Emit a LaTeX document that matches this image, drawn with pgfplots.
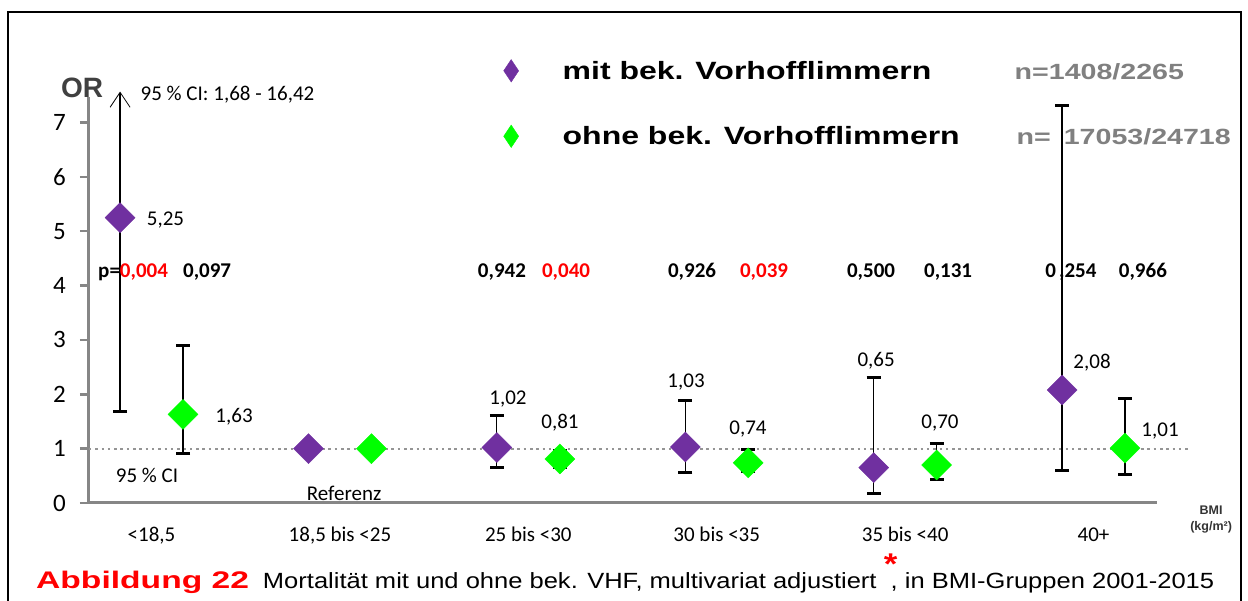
\documentclass[border=0pt]{standalone}
\usepackage{pgfplots}
\pgfplotsset{compat=1.18}
\usepackage{graphicx}
\usepackage{fontspec}
\setmainfont{Carlito}
\newfontfamily\arial{Liberation Sans}
\usetikzlibrary{arrows.meta}
\definecolor{vpurple}{HTML}{7030A0}
\definecolor{vgreen}{HTML}{00FF00}
\definecolor{axgray}{HTML}{868686}
\definecolor{ngray}{HTML}{808080}
\definecolor{dotgray}{HTML}{959595}
\definecolor{orgray}{HTML}{404040}
\newcommand{\px}[1]{\fontsize{#1}{#1}\selectfont}

\begin{document}
\begin{tikzpicture}
% 1px = 1pt; origin = axis corner (px 89, 503)
\path[use as bounding box] (-89pt,-98pt) rectangle (1159pt,503pt);
\begin{axis}[
  at={(0pt,0pt)}, anchor=south west,
  scale only axis, width=1068pt, height=406pt,
  xmin=-0.332, xmax=5.337, ymin=0, ymax=7.47,
  axis lines*=left,
  axis line style={axgray, line width=3pt},
  clip=false,
  xtick={0,...,5},
  xticklabels={{<18,5},{18,5 bis <25},{25 bis <30},{30 bis <35},{35 bis <40},{40+}},
  xtick style={draw=none},
  ytick={0,...,7},
  tick style={axgray, line width=2.5pt},
  tick align=outside, major tick length=9pt,
  /pgf/number format/assume math mode=true,
  xticklabel style={font=\px{21}, anchor=base, yshift=-30pt},
  yticklabel style={font=\px{25}, anchor=east, inner sep=0pt, xshift=-14pt},
  legend style={draw=none, fill=none, inner sep=0pt,
    at={(axis cs:1.868,8.163)}, anchor=north west,
    font=\arial\bfseries\px{25}, row sep=43pt,
    nodes={inner sep=0pt},
    /tikz/every odd column/.append style={column sep=44pt}},
  legend cell align=left,
  legend image code/.code={\draw[#1, mark size=5.3pt, mark options={yscale=1.5,rotate=45}] plot coordinates {(0pt,0pt)};},
]
% reference line
\addplot[dotgray, line width=2pt, dash pattern=on 2.5pt off 3.8pt, forget plot]
  coordinates {(-0.332,1) (5.5,1)};
% error bars, purple
\addplot[draw=none, mark=none, forget plot,
  error bars/.cd, y dir=both, y explicit,
  error bar style={black, line width=1.2pt},
  error mark options={rotate=90, black, line width=3pt, mark size=7pt}]
  coordinates {
  (1.833,1.02) += (0,0.595) -= (0,0.375)
  (2.833,1.03) += (0,0.86) -= (0,0.465)
  (3.833,0.65) += (0,1.65) -= (0,0.47)
  (4.833,2.08) += (0,5.23) -= (0,1.49)
};
\addplot[draw=none, mark=none, forget plot,
  error bars/.cd, y dir=minus, y explicit,
  error bar style={black, line width=1.2pt},
  error mark options={rotate=90, black, line width=3pt, mark size=7pt}]
  coordinates {(-0.167,5.25) -= (0,3.57)};
\addplot[black, line width=1.2pt, forget plot, -{Straight Barb[length=15pt,width=20pt,line width=0.8pt]}]
  coordinates {(-0.167,1.68) (-0.167,7.57)};
% error bars, green
\addplot[draw=none, mark=none, forget plot,
  error bars/.cd, y dir=both, y explicit,
  error bar style={black, line width=1.2pt},
  error mark options={rotate=90, black, line width=3pt, mark size=7pt}]
  coordinates {
  (0.167,1.63) += (0,1.26) -= (0,0.715)
  (2.167,0.81) += (0,0.16) -= (0,0.15)
  (3.167,0.74) += (0,0.25) -= (0,0.16)
  (4.167,0.70) += (0,0.40) -= (0,0.26)
  (5.167,1.01) += (0,0.92) -= (0,0.48)
};
% markers
\addplot[only marks, mark=square*, mark size=10.6pt, color=vpurple, mark options={rotate=45}]
  coordinates {(-0.167,5.25) (0.833,1.00) (1.833,1.02) (2.833,1.03) (3.833,0.65) (4.833,2.08)};
\addlegendentry{\makebox[452pt][l]{\scalebox{1.28}[1]{mit bek. Vorhofflimmern}}\textcolor{ngray}{\px{22}\scalebox{1.3}[1]{n=1408/2265}}}
\addplot[only marks, mark=square*, mark size=10.6pt, color=vgreen, mark options={rotate=45}]
  coordinates {(0.167,1.63) (1.167,1.00) (2.167,0.81) (3.167,0.74) (4.167,0.70) (5.167,1.01)};
\addlegendentry{\makebox[454pt][l]{\scalebox{1.28}[1]{ohne bek. Vorhofflimmern}}\textcolor{ngray}{\px{22}\scalebox{1.3}[1]{n=\hspace{10pt}17053/24718}}}
% value labels
\begin{scope}[every node/.style={font=\px{21}}]
\node at (axis cs:0.074,5.21) {5,25};
\node at (axis cs:0.438,1.59) {1,63};
\node at (axis cs:1.892,1.91) {1,02};
\node at (axis cs:2.168,1.47) {0,81};
\node at (axis cs:2.837,2.23) {1,03};
\node at (axis cs:3.166,1.36) {0,74};
\node at (axis cs:3.846,2.62) {0,65};
\node at (axis cs:4.185,1.47) {0,70};
\node at (axis cs:4.992,2.58) {2,08};
\node at (axis cs:5.353,1.33) {1,01};
\node at (axis cs:-0.024,0.50) {95 \% CI};
\node at (axis cs:1.022,0.18) {Referenz};
\node at (axis cs:0.403,7.51) {95 \% CI: 1,68 - 16,42};
\end{scope}
% p values
\begin{scope}[every node/.style={font=\bfseries\px{21}}]
\node at (axis cs:-0.098,4.25) {p=\textcolor{red}{0,004}};
\node at (axis cs:0.295,4.25) {0,097};
\node at (axis cs:1.860,4.25) {0,942};
\node[text=red] at (axis cs:2.200,4.25) {0,040};
\node at (axis cs:2.869,4.25) {0,926};
\node[text=red] at (axis cs:3.251,4.25) {0,039};
\node at (axis cs:3.819,4.25) {0,500};
\node at (axis cs:4.228,4.25) {0,131};
\node at (axis cs:4.880,4.25) {0\hspace{3pt},254};
\node at (axis cs:5.262,4.25) {0,966};
\end{scope}
\node[font=\arial\bfseries\px{28}, text=orgray] at (axis cs:-0.369,7.64) {OR};
\node[font=\arial\bfseries\fontsize{12.5}{16}\selectfont, text=black!80, align=center] at (axis cs:5.624,-0.31) {BMI\\(kg/m²)};
\end{axis}
% frame and caption
\draw[line width=2pt] (-81pt,-120pt) -- (-81pt,491pt) -- (1152pt,491pt) -- (1152pt,-120pt);
\node[anchor=base west, inner sep=0pt, font=\arial\px{22}] at (-53pt,-86pt)
  {\textcolor{red}{\bfseries\px{24}\scalebox{1.4}[1]{Abbildung 22}}\hspace{14pt}\scalebox{1.16}[1]{Mortalität mit und ohne bek. VHF, multivariat adjustiert\ \rlap{\raisebox{14pt}{\textcolor{red}{\bfseries\px{30}*}}}\hspace{6pt}, in BMI-Gruppen 2001-2015}};
\end{tikzpicture}
\end{document}
